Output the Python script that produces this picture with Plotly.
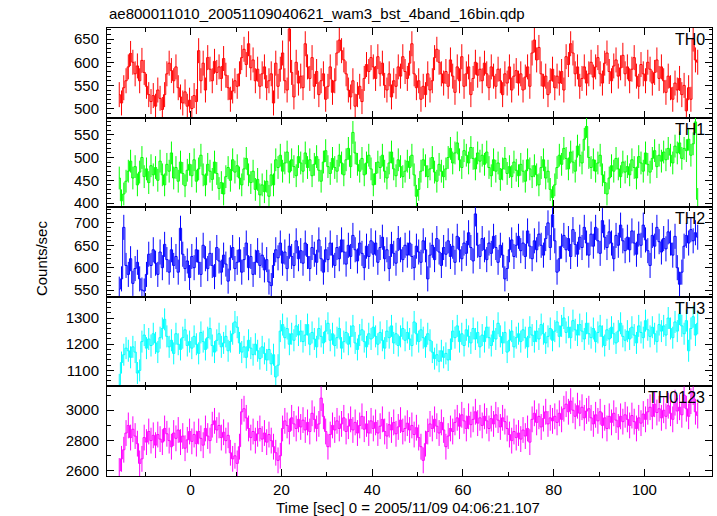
import plotly.graph_objects as go
from plotly.subplots import make_subplots

# ---- data: 0.5 s bins, first bin centre at -15.75 s ----
BIN_WIDTH = 0.5
T_FIRST = -15.75

TH0 = [
    530, 512, 545, 560, 590, 619, 600, 575, 592, 560, 604, 578, 548, 530, 515, 528,
    505, 540, 522, 498, 530, 575, 598, 582, 560, 590, 545, 525, 512, 536, 505, 518,
    500, 528, 515, 625, 560, 598, 540, 610, 585, 560, 602, 578, 590, 565, 608, 572,
    545, 520, 538, 560, 548, 575, 610, 628, 595, 640, 588, 605, 560, 585, 548, 575,
    590, 545, 560, 575, 512, 598, 548, 585, 620, 560, 540, 672, 578, 525, 600, 555,
    570, 545, 640, 590, 565, 610, 548, 580, 530, 560, 575, 520, 548, 590, 535, 560,
    620, 648, 625, 605, 575, 540, 525, 560, 505, 530, 548, 515, 565, 595, 580, 610,
    590, 565, 612, 575, 598, 550, 540, 575, 525, 560, 548, 590, 570, 612, 580, 565,
    598, 640, 575, 545, 560, 520, 548, 530, 575, 540, 560, 610, 628, 600, 575, 555,
    580, 548, 605, 570, 535, 590, 560, 612, 548, 575, 590, 530, 565, 600, 572, 585,
    560, 598, 575, 545, 590, 570, 548, 585, 560, 530, 575, 555, 590, 540, 570, 582,
    555, 575, 540, 568, 590, 548, 620, 648, 605, 632, 575, 548, 570, 530, 560, 585,
    545, 570, 555, 580, 540, 612, 595, 640, 620, 575, 590, 548, 565, 590, 555, 575,
    600, 568, 590, 610, 575, 555, 598, 620, 580, 560, 592, 605, 570, 588, 615, 575,
    590, 560, 585, 610, 570, 548, 595, 575, 560, 600, 585, 555, 578, 605, 565, 590,
    560, 535, 570, 545, 520, 555, 540, 565, 530, 550, 495, 545, 520, 650, 605, 600,
]

TH1 = [
    455, 405, 420, 448, 470, 492, 455, 480, 440, 468, 500, 458, 475, 445, 482, 462,
    478, 450, 492, 462, 440, 485, 470, 510, 455, 478, 448, 490, 465, 438, 472, 485,
    460, 495, 448, 475, 505, 462, 440, 485, 470, 452, 490, 465, 432, 445, 420, 458,
    478, 450, 495, 468, 482, 455, 440, 475, 498, 462, 445, 470, 430, 452, 418, 440,
    425, 448, 415, 462, 440, 495, 478, 505, 470, 488, 512, 468, 495, 480, 460, 502,
    488, 470, 510, 478, 495, 460, 485, 502, 472, 448, 490, 515, 480, 465, 498, 478,
    470, 505, 488, 462, 495, 520, 480, 555, 510, 485, 470, 498, 462, 488, 505, 475,
    440, 465, 490, 478, 505, 470, 455, 488, 512, 475, 460, 495, 480, 458, 470, 492,
    478, 505, 462, 415, 430, 470, 495, 482, 458, 475, 500, 468, 448, 485, 470, 458,
    475, 500, 520, 488, 510, 532, 495, 478, 515, 505, 488, 522, 498, 475, 510, 492,
    505, 485, 512, 478, 460, 495, 470, 488, 452, 475, 498, 465, 480, 458, 490, 472,
    460, 485, 470, 448, 495, 475, 458, 482, 462, 440, 478, 495, 455, 470, 430, 412,
    440, 478, 505, 485, 520, 498, 475, 512, 490, 470, 525, 505, 488, 540, 568, 500,
    478, 495, 470, 488, 505, 462, 445, 420, 455, 482, 470, 498, 475, 458, 490, 468,
    480, 462, 495, 478, 455, 502, 488, 470, 510, 485, 468, 498, 515, 480, 505, 492,
    512, 495, 520, 505, 488, 525, 510, 532, 498, 520, 515, 540, 505, 530, 578, 408,
]

TH2 = [
    552, 575, 690, 605, 585, 620, 565, 598, 612, 575, 550, 548, 585, 630, 605, 640,
    610, 585, 635, 600, 652, 618, 590, 640, 605, 625, 590, 688, 630, 598, 615, 578,
    625, 600, 640, 612, 585, 650, 620, 598, 632, 605, 580, 645, 615, 590, 628, 608,
    570, 622, 645, 598, 612, 640, 590, 618, 655, 600, 625, 585, 612, 638, 605, 628,
    595, 618, 568, 560, 605, 640, 622, 655, 610, 635, 598, 648, 625, 605, 660, 620,
    638, 610, 655, 625, 598, 645, 630, 612, 662, 620, 590, 640, 618, 655, 628, 605,
    645, 620, 662, 635, 608, 650, 625, 672, 640, 615, 655, 632, 600, 648, 625, 660,
    630, 655, 612, 645, 668, 620, 640, 598, 652, 632, 610, 665, 640, 618, 650, 628,
    655, 625, 600, 648, 635, 612, 660, 640, 575, 628, 650, 618, 665, 635, 605, 645,
    630, 660, 625, 648, 612, 670, 640, 620, 655, 632, 678, 645, 615, 720, 650, 625,
    665, 640, 618, 655, 632, 670, 645, 612, 650, 628, 575, 598, 640, 662, 625, 650,
    670, 638, 655, 625, 682, 648, 620, 660, 640, 675, 650, 628, 665, 700, 645, 718,
    660, 590, 620, 648, 672, 640, 665, 625, 685, 652, 630, 668, 645, 690, 655, 628,
    675, 648, 690, 660, 632, 705, 668, 645, 680, 655, 620, 672, 650, 695, 660, 638,
    668, 640, 682, 655, 630, 675, 650, 695, 662, 638, 605, 672, 648, 690, 658, 635,
    665, 642, 680, 655, 628, 670, 600, 563, 590, 648, 672, 655, 685, 660, 678, 668,
]

TH3 = [
    1045, 1130, 1160, 1185, 1175, 1150, 1190, 1170, 1090, 1100, 1210, 1235, 1185, 1220, 1195, 1240,
    1205, 1170, 1225, 1260, 1295, 1230, 1190, 1215, 1165, 1240, 1200, 1180, 1225, 1255, 1195, 1210,
    1185, 1230, 1200, 1165, 1245, 1210, 1180, 1225, 1260, 1195, 1170, 1215, 1240, 1190, 1205, 1230,
    1175, 1210, 1240, 1285, 1265, 1205, 1170, 1190, 1150, 1215, 1185, 1160, 1200, 1175, 1145, 1190,
    1165, 1140, 1180, 1125, 1160, 1075, 1120, 1250, 1275, 1225, 1260, 1200, 1240, 1215, 1270, 1235,
    1250, 1210, 1235, 1275, 1200, 1245, 1220, 1190, 1260, 1230, 1205, 1250, 1280, 1215, 1240, 1195,
    1225, 1260, 1185, 1210, 1245, 1200, 1230, 1270, 1205, 1180, 1235, 1255, 1210, 1190, 1240, 1220,
    1265, 1230, 1200, 1245, 1215, 1185, 1250, 1225, 1270, 1205, 1240, 1195, 1230, 1260, 1215, 1245,
    1220, 1195, 1285, 1240, 1210, 1255, 1225, 1190, 1240, 1215, 1170, 1145, 1160, 1135, 1175, 1150,
    1165, 1140, 1180, 1250, 1225, 1270, 1210, 1240, 1195, 1255, 1230, 1205, 1260, 1220, 1245, 1190,
    1235, 1210, 1265, 1225, 1195, 1250, 1220, 1280, 1230, 1205, 1245, 1170, 1215, 1250, 1190, 1225,
    1240, 1210, 1255, 1225, 1190, 1265, 1235, 1210, 1250, 1220, 1275, 1240, 1205, 1230, 1260, 1215,
    1250, 1285, 1230, 1270, 1300, 1245, 1265, 1225, 1290, 1255, 1235, 1275, 1250, 1220, 1280, 1240,
    1225, 1260, 1210, 1245, 1270, 1230, 1195, 1255, 1220, 1265, 1240, 1205, 1250, 1280, 1230, 1215,
    1250, 1220, 1265, 1235, 1205, 1270, 1245, 1225, 1290, 1255, 1230, 1265, 1240, 1210, 1275, 1250,
    1270, 1235, 1300, 1260, 1225, 1285, 1250, 1315, 1270, 1240, 1290, 1175, 1260, 1305, 1235, 1280,
]

TH0123 = [
    2600, 2680, 2740, 2850, 2900, 2820, 2875, 2830, 2780, 2650, 2680, 2820, 2790, 2860, 2800, 2835,
    2770, 2840, 2810, 2790, 2880, 2845, 2800, 2760, 2850, 2815, 2870, 2790, 2830, 2750, 2805, 2860,
    2795, 2840, 2780, 2860, 2815, 2770, 2880, 2830, 2800, 2905, 2930, 2870, 2900, 2820, 2855, 2800,
    2835, 2720, 2680, 2700, 2650, 2760, 2990, 3010, 2950, 2880, 2820, 2860, 2800, 2845, 2880, 2810,
    2850, 2790, 2840, 2800, 2760, 2720, 2670, 2700, 2880, 2930, 2900, 2860, 2950, 2910, 2880, 2940,
    2890, 2935, 2870, 2920, 2860, 2980, 2940, 2880, 2910, 3080, 2960, 2860, 2760, 2840, 2900, 2870,
    2930, 2880, 2910, 2950, 2860, 2895, 2940, 2870, 2920, 2850, 2900, 2960, 2875, 2910, 2850, 2930,
    2880, 2920, 2850, 2895, 2940, 2860, 2830, 2905, 2870, 2920, 2845, 2890, 2935, 2860, 2880, 2915,
    2870, 2900, 2840, 2885, 2820, 2760, 2670, 2780, 2860, 2910, 2880, 2940, 2895, 2850, 2920, 2870,
    2760, 2830, 2880, 2860, 2920, 2950, 2895, 2970, 2930, 2880, 2960, 2905, 2940, 2990, 2915, 2950,
    2900, 2960, 2930, 2880, 2945, 2910, 2970, 2935, 2890, 2950, 2925, 2880, 2840, 2800, 2860, 2820,
    2850, 2810, 2870, 2830, 2880, 2790, 2940, 2980, 2920, 2960, 2890, 2945, 2990, 2910, 2950, 2930,
    2960, 2920, 2980, 2940, 3010, 3040, 2990, 3060, 3000, 2960, 3030, 2980, 3020, 2950, 2995, 3010,
    2950, 2910, 2970, 2930, 2990, 2900, 2950, 2880, 2960, 2920, 2980, 2935, 2890, 2960, 2925, 2970,
    2940, 2900, 2965, 2925, 2880, 2950, 2915, 2975, 2940, 2990, 3020, 2960, 3040, 2985, 3010, 2950,
    3000, 2960, 3030, 2980, 2940, 3050, 2995, 3020, 2970, 3100, 3010, 2960, 3060, 3120, 2990, 2965,
]

# typical 1-sigma error per band (counts/sec)
ERRORS = [27, 25, 28, 42, 85]
NAMES = ["TH0", "TH1", "TH2", "TH3", "TH0123"]
SERIES = [TH0, TH1, TH2, TH3, TH0123]
COLORS = ["#ff0000", "#00ff00", "#0000ff", "#00ffff", "#ff00ff"]
Y_RANGES = [[480.4, 674], [391, 587.5], [535, 735], [1039, 1381], [2567, 3157]]
Y_DTICK = [50, 50, 50, 100, 200]
Y_MINOR = [10, 10, 10, 20, 100]
X_RANGE = [-18.45, 114.9]

TITLE = "ae800011010_20051109040621_wam3_bst_4band_16bin.qdp"
X_TITLE = "Time [sec] 0 = 2005/11/09 04:06:21.107"
Y_TITLE = "Counts/sec"

FONT = "Liberation Sans, Arial, Helvetica, sans-serif"

fig = make_subplots(rows=5, cols=1, shared_xaxes=True, vertical_spacing=0)

for k, (vals, err, col) in enumerate(zip(SERIES, ERRORS, COLORS)):
    t = [T_FIRST + BIN_WIDTH * i for i in range(len(vals))]
    fig.add_trace(
        go.Scatter(
            x=t, y=vals, mode="lines",
            line=dict(color=col, width=1, shape="hvh"),
            error_y=dict(type="constant", value=err, width=0,
                         thickness=1, color=col),
            showlegend=False, hoverinfo="skip",
        ),
        row=k + 1, col=1,
    )
    fig.update_yaxes(
        range=Y_RANGES[k], dtick=Y_DTICK[k], ticks="inside", ticklen=7,
        tickcolor="black", tickwidth=1, showline=True, linecolor="black",
        linewidth=1, mirror="ticks", showgrid=False, zeroline=False,
        minor=dict(dtick=Y_MINOR[k], ticks="inside", ticklen=3.5,
                   tickcolor="black", showgrid=False),
        ticklabelstandoff=4,
        row=k + 1, col=1,
    )
    fig.update_xaxes(
        range=X_RANGE, dtick=20, ticks="inside", ticklen=7, tickcolor="black",
        showline=True, linecolor="black", linewidth=1, mirror="ticks",
        showgrid=False, zeroline=False,
        minor=dict(dtick=10, ticks="inside", ticklen=4, tickcolor="black",
                   showgrid=False),
        ticklabelstandoff=0,
        row=k + 1, col=1,
    )
    yref = "y domain" if k == 0 else f"y{k + 1} domain"
    fig.add_annotation(
        text=NAMES[k], xref="paper", x=1, xanchor="right", xshift=-5,
        yref=yref, y=1, yanchor="top", yshift=-1, showarrow=False,
        font=dict(size=16, color="black", family=FONT),
    )

fig.add_annotation(
    text=TITLE, xref="paper", x=0, xanchor="left", yref="paper", y=1,
    yanchor="bottom", yshift=4, showarrow=False,
    font=dict(size=15, color="black", family=FONT),
)
fig.add_annotation(
    text=X_TITLE, xref="paper", x=0.498, xanchor="center", yref="paper", y=0,
    yanchor="top", yshift=-21, showarrow=False,
    font=dict(size=15, color="black", family=FONT),
)
fig.add_annotation(
    text=Y_TITLE, xref="paper", x=-0.107, xanchor="center", yref="paper",
    y=0.487, yanchor="middle", textangle=-90, showarrow=False,
    font=dict(size=15, color="black", family=FONT),
)

fig.update_layout(
    width=717, height=516,
    margin=dict(l=107, r=5, t=28, b=40),
    paper_bgcolor="white", plot_bgcolor="white",
    font=dict(family=FONT, size=15, color="black"),
)

fig.write_html(
    "out.html",
    config={"displayModeBar": False},
    post_script="document.body.style.margin='0';document.body.style.overflow='hidden';",
)
